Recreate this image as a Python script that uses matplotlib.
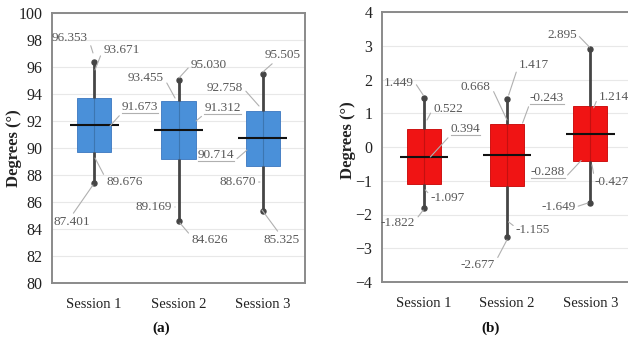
import numpy as np
import matplotlib.pyplot as plt
from matplotlib.text import Text

plt.rcParams['font.family'] = ['Liberation Serif', 'DejaVu Serif']

# ---- data ----
sessions = ["Session 1", "Session 2", "Session 3"]

# (a) absolute angle
a_min = [87.401, 84.626, 85.325]
a_q1 = [89.676, 89.169, 88.670]
a_med = [91.673, 91.312, 90.714]
a_q3 = [93.671, 93.455, 92.758]
a_max = [96.353, 95.030, 95.505]

# (b) angle error
b_min = [-1.822, -2.677, -1.649]
b_q1 = [-1.097, -1.155, -0.427]
b_med = [-0.288, -0.243, 0.394]
b_q3 = [0.522, 0.668, 1.214]
b_max = [1.449, 1.417, 2.895]

# ---- callout layout: (category of value, stat, text x, text y, leader end x, leader end y, relpos, underline)
# in (b) the median labels of session 1 and 3 are swapped in the source figure
a_labels = [
    (0, "max", -0.287, 98.15, -0.014, 97.04, (1, 0.6), False),
    (0, "q3", 0.324, 97.26, 0.01, 95.78, (0, 0.6), False),
    (0, "med", 0.543, 93.04, 0.188, 91.63, (0, 0), True),
    (0, "q1", 0.36, 87.48, 0.01, 89.26, (0, 0.7), False),
    (0, "min", -0.269, 84.52, -0.014, 87.26, (0.5, 1), False),
    (1, "q3", 0.615, 95.19, 0.959, 93.7, (1, 0.5), False),
    (1, "max", 1.362, 96.15, 1.006, 95.19, (0, 0.5), False),
    (1, "med", 1.522, 92.96, 1.208, 92.0, (0, 0), True),
    (1, "q1", 0.709, 85.63, 0.959, 85.63, (1, 0.5), False),
    (1, "min", 1.368, 83.19, 1.018, 84.44, (0, 0.8), False),
    (2, "max", 2.233, 96.89, 2.0, 95.63, (0.3, 0), False),
    (2, "q3", 1.551, 94.44, 1.955, 93.11, (1, 0.5), False),
    (2, "med", 1.445, 89.48, 1.812, 89.85, (1, 0), True),
    (2, "q1", 1.7, 87.48, 1.966, 87.48, (1, 0.5), False),
    (2, "min", 2.221, 83.19, 1.99, 85.41, (0.45, 1), False),
]
b_labels = [
    (0, "max", -0.30, 1.896, -0.006, 1.54, (1, 0.7), False),
    (0, "q3", 0.295, 1.126, 0.04, 0.8, (0, 0.6), False),
    (2, "med", 0.50, 0.533, 0.08, -0.296, (0, 0), True),
    (0, "q1", 0.289, -1.51, 0.018, -1.27, (0, 0.7), False),
    (0, "min", -0.307, -2.25, -0.006, -1.87, (1, 0.7), False),
    (1, "q3", 0.627, 1.78, 1.0, 0.8, (1, 0.6), False),
    (1, "max", 1.325, 2.43, 1.02, 1.54, (0, 0.6), False),
    (1, "med", 1.476, 1.452, 1.187, 0.71, (0, 0), True),
    (1, "q1", 1.313, -2.46, 1.018, -2.22, (0, 0.7), False),
    (1, "min", 0.65, -3.5, 1.0, -2.75, (1, 0.7), False),
    (2, "max", 1.657, 3.32, 1.99, 2.96, (1, 0.6), False),
    (2, "q3", 2.285, 1.48, 2.04, 1.16, (0, 0.7), False),
    (0, "med", 1.488, -0.74, 1.89, -0.4, (1, 0), True),
    (2, "q1", 2.255, -1.04, 2.02, -0.53, (0, 0.8), False),
    (2, "min", 1.615, -1.78, 1.97, -1.66, (1, 0.5), False),
]

LABEL_COLOR = "#595959"
LEADER_COLOR = "#b0b0b0"


def draw_panel(ax, stats, ylim, ystep, face, edge, labels):
    x = np.arange(len(sessions))
    ax.bar(x, np.array(stats["q3"]) - np.array(stats["q1"]), bottom=stats["q1"],
           width=0.41, color=face, edgecolor=edge, linewidth=0.6, zorder=2)
    ax.vlines(x, stats["min"], stats["q1"], color="#454545", lw=2.0, zorder=3)
    ax.vlines(x, stats["q3"], stats["max"], color="#454545", lw=2.0, zorder=3)
    ax.vlines(x, stats["q1"], stats["q3"], color="#000000", lw=0.8, alpha=0.18, zorder=3)
    ax.plot(x, stats["min"], "o", color="#454545", ms=3.6, zorder=4)
    ax.plot(x, stats["max"], "o", color="#454545", ms=3.6, zorder=4)
    ax.hlines(stats["med"], x - 0.29, x + 0.29, color="#111111", lw=1.5, zorder=5)

    ax.set_xlim(-0.5, len(sessions) - 0.5)
    ax.set_ylim(*ylim)
    ax.set_yticks(np.arange(ylim[0], ylim[1] + ystep / 2, ystep))
    ax.set_xticks(x)
    ax.set_xticklabels(sessions, fontsize=10.5, color="#222222")
    ax.tick_params(axis="x", length=0, pad=11)
    ax.tick_params(axis="y", length=0, pad=7, labelsize=11.5, labelcolor="#222222")
    ax.grid(axis="y", color="#e8e8e8", lw=0.8, zorder=0)
    ax.set_axisbelow(True)
    for s in ax.spines.values():
        s.set_color("#8a8a8a")
        s.set_linewidth(1.4)

    notes = []
    for cat, key, tx, ty, ex, ey, rel, under in labels:
        txt = f"{stats[key][cat]:.3f}"
        an = ax.annotate(txt, xy=(ex, ey), xytext=(tx, ty), ha="center", va="center",
                         fontsize=9.5, color=LABEL_COLOR, zorder=6,
                         arrowprops=dict(arrowstyle="-", color=LEADER_COLOR, lw=0.8,
                                         relpos=rel, shrinkA=0, shrinkB=0))
        notes.append((an, under))
    return notes


fig = plt.figure(figsize=(6.28, 3.51), dpi=100)
ax_a = fig.add_axes([52 / 628, 1 - 283 / 351, 253 / 628, 270 / 351])
ax_b = fig.add_axes([382 / 628, 1 - 282 / 351, 250 / 628, 270 / 351])

stats_a = dict(min=a_min, q1=a_q1, med=a_med, q3=a_q3, max=a_max)
stats_b = dict(min=b_min, q1=b_q1, med=b_med, q3=b_q3, max=b_max)

notes_a = draw_panel(ax_a, stats_a, (80, 100), 2, "#4a90d9", "#3a76bf", a_labels)
notes_b = draw_panel(ax_b, stats_b, (-4, 4), 1, "#f01414", "#c80000", b_labels)

# underline under median callouts (part of the leader line)
fig.canvas.draw()
renderer = fig.canvas.get_renderer()
for ax, notes in ((ax_a, notes_a), (ax_b, notes_b)):
    inv = ax.transData.inverted()
    for an, under in notes:
        if not under:
            continue
        bb = Text.get_window_extent(an, renderer)  # text only, no leader
        (x0, y0), (x1, _) = inv.transform([(bb.x0, bb.y0), (bb.x1, bb.y0)])
        ax.plot([x0, x1], [y0, y0], color=LEADER_COLOR, lw=0.8, zorder=6)

fig.text(14 / 628, 1 - 148 / 351, "Degrees (°)", rotation=90, ha="center", va="center",
         fontsize=12, fontweight="bold", color="#222222")
fig.text(348 / 628, 1 - 140 / 351, "Degrees (°)", rotation=90, ha="center", va="center",
         fontsize=12, fontweight="bold", color="#222222")
fig.text(161 / 628, 1 - 328 / 351, "(a)", ha="center", va="center", fontsize=11,
         fontweight="bold", color="#111111")
fig.text(491 / 628, 1 - 328 / 351, "(b)", ha="center", va="center", fontsize=11,
         fontweight="bold", color="#111111")

fig.savefig("out.png", dpi=100)
